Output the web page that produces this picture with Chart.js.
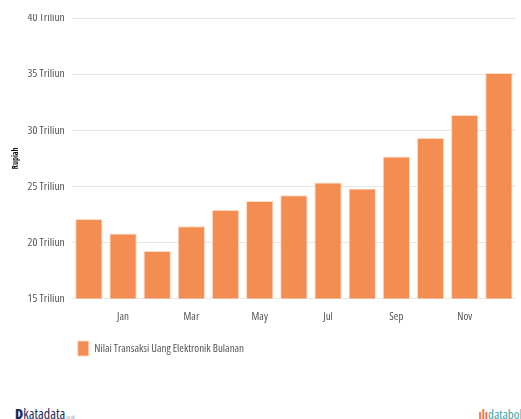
<!DOCTYPE html>
<html>
<head>
<meta charset="utf-8">
<script src="https://cdn.jsdelivr.net/npm/chart.js@4"></script>
<style>
  body { margin: 0; background: #fff; }
  #page { position: relative; width: 521px; height: 419px; overflow: hidden; }
  #clip { position: absolute; left: 0; top: 14px; width: 521px; height: 366px; overflow: hidden; }
  #box { position: absolute; left: 0; top: -14px; width: 521px; height: 380px; }
  .brand { position: absolute; top: 404px; font-family: 'Open Sans', sans-serif; font-stretch: condensed; }
  #kata { left: 15px; color: #1b2a5c; font-size: 14px; }
  #kata b { font-size: 14px; font-weight: 900; }
  #kata small { font-size: 5px; color: #8a93aa; }
  #dbok { right: -8px; top: 405px; color: #3aa7a3; font-size: 13px; }
  #dbok span { color: #f0713a; font-weight: bold; }
</style>
</head>
<body>
<div id="page">
  <div id="clip"><div id="box"><canvas id="barChart"></canvas></div></div>
  <div class="brand" id="kata"><b>D</b>katadata<small>.co.id</small></div>
  <div class="brand" id="dbok"><span>ıļı</span>databoks</div>
</div>
<script>
// Monthly e-money transactions, Dec of the previous year through Dec
var months = ['Des', 'Jan', 'Feb', 'Mar', 'Apr', 'Mei', 'Jun', 'Jul', 'Agu', 'Sep', 'Okt', 'Nov', 'Des'];
var tickNames = ['', 'Jan', '', 'Mar', '', 'May', '', 'Jul', '', 'Sep', '', 'Nov', ''];
var nilaiTransaksi = [22.1, 20.8, 19.25, 21.45, 22.9, 23.7, 24.2, 25.35, 24.8, 27.65, 29.3, 31.35, 35.1];
var yTicks = [15, 20, 25, 30, 35, 40];

// 'condensed' goes through the weight slot so the canvas font string becomes "condensed 11px 'Open Sans'"
var textFont = { family: "'Open Sans', sans-serif", weight: 'condensed', size: 11 };

var ctx = document.getElementById('barChart').getContext('2d');
var myChart = new Chart(ctx, {
    type: 'bar',
    data: {
        labels: months,
        datasets: [{
            label: 'Nilai Transaksi Uang Elektronik Bulanan',
            data: nilaiTransaksi,
            backgroundColor: 'rgba(243, 135, 73, 0.95)',
            borderColor: 'rgba(255, 215, 190, 0.9)',
            borderWidth: 1,
            categoryPercentage: 0.8,
            barPercentage: 1.0
        }]
    },
    options: {
        responsive: true,
        maintainAspectRatio: false,
        animation: false,
        layout: { padding: { top: 18, right: 5, left: 11, bottom: 14 } },
        plugins: {
            tooltip: { enabled: false },
            legend: {
                position: 'bottom',
                align: 'start',
                fullSize: false,
                title: { display: true, text: '', padding: { top: 6, bottom: 0 }, font: { size: 1 } },
                labels: {
                    boxWidth: 11,
                    boxHeight: 15,
                    padding: 6,
                    color: '#555',
                    font: textFont
                }
            }
        },
        scales: {
            x: {
                grid: { display: false },
                border: { display: false },
                ticks: {
                    autoSkip: false,
                    maxRotation: 0,
                    color: '#555',
                    padding: 4,
                    font: textFont,
                    callback: function (v, i) { return tickNames[i]; }
                }
            },
            y: {
                min: yTicks[0],
                max: yTicks[yTicks.length - 1],
                afterBuildTicks: function (axis) {
                    axis.ticks = yTicks.map(function (v) { return { value: v }; });
                },
                grid: { color: '#e6e6e6', drawTicks: false },
                border: { display: false },
                ticks: {
                    color: '#555',
                    padding: 7,
                    font: { family: textFont.family, weight: 'condensed', size: 11.5 },
                    callback: function (v) { return v + ' Triliun'; }
                },
                title: {
                    display: true,
                    text: 'Rupiah',
                    color: '#111',
                    padding: { top: 0, bottom: 0 },
                    font: { family: "'Open Sans', sans-serif", weight: 'condensed bold', size: 8 }
                }
            }
        }
    }
});
</script>
</body>
</html>
